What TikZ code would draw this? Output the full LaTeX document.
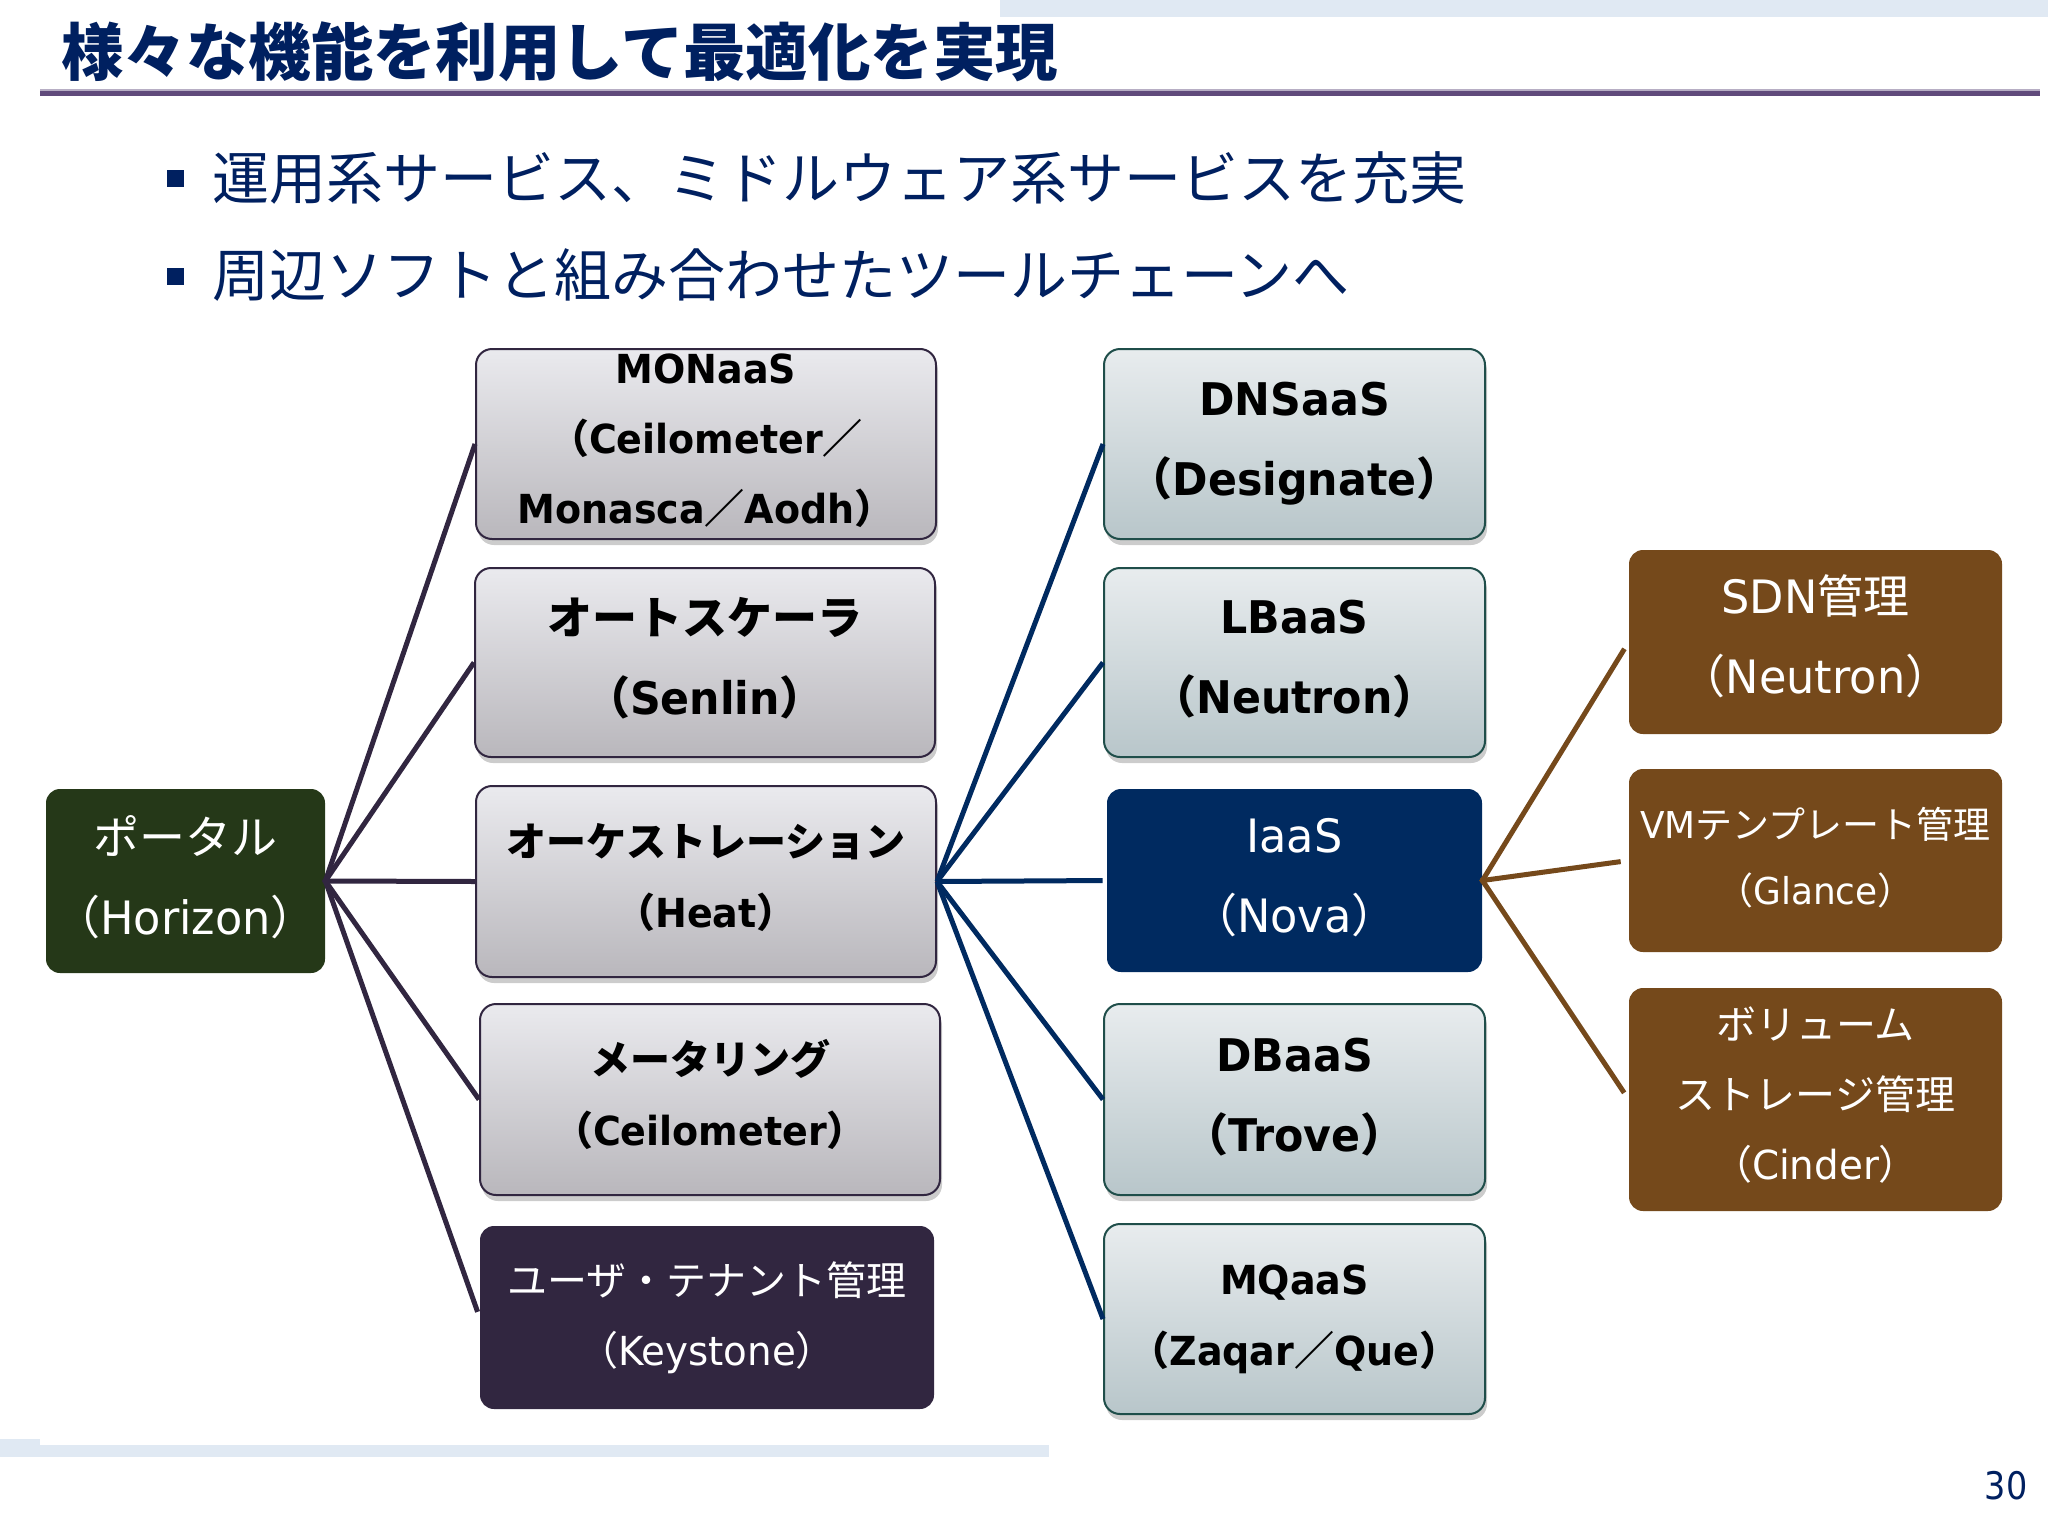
\documentclass[tikz,border=0pt]{standalone}
\usepackage{fontspec}
\setmainfont{Noto Sans CJK JP}
\newfontfamily\lat[FakeStretch=0.97,BoldFeatures={FakeStretch=0.95}]{DejaVu Sans}
\newfontfamily\num[FakeStretch=0.88]{DejaVu Sans}
\usetikzlibrary{shadows}
\definecolor{navy}{HTML}{002060}
\definecolor{nodeblue}{HTML}{002A60}
\definecolor{dkgreen}{HTML}{253818}
\definecolor{dkpurple}{HTML}{312640}
\definecolor{brown}{HTML}{75491B}
\definecolor{rule}{HTML}{604A7B}
\definecolor{band}{HTML}{E0E9F3}
\definecolor{graytop}{HTML}{EAEAEE}
\definecolor{graybot}{HTML}{B9B7BC}
\definecolor{tealtop}{HTML}{E8ECEE}
\definecolor{tealbot}{HTML}{B8C6CA}
\definecolor{tealedge}{HTML}{1F4E4A}
\newcommand{\La}[1]{{\lat #1}}
\newcommand{\Up}[1]{\rule[-#1pt]{0pt}{#1pt}}
\tikzset{
  x=0.5pt,y=-0.5pt,
  base/.style={rectangle,rounded corners=8pt,inner sep=0pt,align=center,anchor=center},
  sized/.style 2 args={minimum width=#1*0.5pt,minimum height=#2*0.5pt},
  grad/.style={base,drop shadow={shadow xshift=1pt,shadow yshift=-3pt,fill=black,opacity=.2},line width=1pt,text=black},
  gray/.style={grad,draw=dkpurple,top color=graytop,bottom color=graybot},
  teal/.style={grad,draw=tealedge,top color=tealtop,bottom color=tealbot},
  solid/.style={base,rounded corners=7pt,text=white},
  big/.style={font=\fontsize{23}{40}\selectfont},
  mid/.style={font=\fontsize{20}{35}\selectfont},
  mono/.style={font=\fontsize{20}{35}\selectfont\bfseries},
  bigb/.style={font=\fontsize{22.5}{40}\selectfont\bfseries},
  midb/.style={font=\fontsize{20}{35.5}\selectfont\bfseries},
  ln/.style={line width=2.5pt},
  lnp/.style={ln,draw=dkpurple},
  lnb/.style={ln,draw=nodeblue},
  lnr/.style={ln,draw=brown},
  bullet/.style={fill=navy,draw=none,minimum size=8.5pt,inner sep=0pt,rectangle},
  ttl/.style={text=navy,anchor=west,inner sep=0pt,font=\fontsize{31.2}{34}\selectfont\bfseries},
  item/.style={text=navy,anchor=west,inner sep=0pt,font=\fontsize{28.5}{32}\selectfont},
  bar/.style={fill=band,draw=none},
}
\begin{document}
\begin{tikzpicture}
\useasboundingbox (0,0) rectangle (2048,1536);
\fill[white] (0,0) rectangle (2048,1536);
% bands
\path[bar] (1000,0) rectangle (2048,17);
\path[bar] (0,1445) rectangle (1049,1457);
\path[bar] (0,1439) rectangle (40,1445);
% title
\node[ttl] (title) at (61,52) {様々な機能を利用して最適化を実現};
\fill[rule!45] (40,89) rectangle (2040,91);
\fill[rule] (40,91) rectangle (2040,96);
% bullets
\node[bullet] (b1) at (175.5,178.5) {};
\node[bullet] (b2) at (175.5,276) {};
\node[item] (t1) at (212,178) {運用系サービス、ミドルウェア系サービスを充実};
\node[item] (t2) at (212,275) {周辺ソフトと組み合わせたツールチェーンへ};
% column 1
\node[solid,sized={279}{184},fill=dkgreen,big] (portal) at (185.5,881) {ポータル\\（\La{Horizon}）\Up{6.5}};
\node[gray,sized={460}{190},mono] (mon) at (706,444) {\La{MONaaS}\\（\La{Ceilometer}／\\\La{Monasca}／\La{Aodh}）\Up{5}};
\node[gray,sized={460}{189},bigb] (auto) at (705,662.5) {オートスケーラ\\（\La{Senlin}）\Up{6.5}};
\node[gray,sized={460}{191},midb] (orch) at (706,881.5) {オーケストレーション\\（\La{Heat}）\Up{6.5}};
\node[gray,sized={460}{191},midb] (meter) at (710,1099.5) {メータリング\\（\La{Ceilometer}）\Up{7}};
\node[solid,sized={454}{183},fill=dkpurple,mid] (user) at (707,1317.5) {ユーザ・テナント管理\\（\La{Keystone}）\Up{4}};
% column 2
\node[teal,sized={381}{190},bigb] (dns) at (1294.5,444) {\La{DNSaaS}\\（\La{Designate}）};
\node[teal,sized={381}{189},bigb] (lb) at (1294.5,662.5) {\La{LBaaS}\\（\La{Neutron}）\Up{6}};
\node[solid,sized={375}{183},fill=nodeblue,big] (iaas) at (1294.5,880.5) {\La{IaaS}\\（\La{Nova}）\Up{5}};
\node[teal,sized={381}{191},bigb] (db) at (1294.5,1099.5) {\La{DBaaS}\\（\La{Trove}）\Up{5}};
\node[teal,sized={381}{190},midb] (mq) at (1294.5,1319) {\La{MQaaS}\\（\La{Zaqar}／\La{Que}）};
% column 3
\node[solid,sized={373}{184},fill=brown,big] (sdn) at (1815.5,642) {\La{SDN}管理\\（\La{Neutron}）\Up{7.5}};
\node[solid,sized={373}{183},fill=brown,font=\fontsize{18.5}{33}\selectfont] (vm) at (1815.5,860.5) {\La{VM}テンプレート管理\\（\La{Glance}）\Up{4.5}};
\node[solid,sized={373}{223},fill=brown,mid] (vol) at (1815.5,1099.5) {ボリューム\\ストレージ管理\\（\La{Cinder}）\Up{6}};
% connectors
\foreach \t in {mon,auto,orch,meter}{\draw[lnp,shorten <=-1pt] (portal.east) -- (\t.west);}
\draw[lnp,shorten <=-1pt,shorten >=3pt] (portal.east) -- (user.west);
\foreach \t in {dns,lb,db,mq}{\draw[lnb] (orch.east) -- (\t.west);}
\draw[lnb,shorten >=2pt] (orch.east) -- (iaas.west);
\foreach \t in {sdn,vm,vol}{\draw[lnr,shorten <=-1pt,shorten >=4pt] (iaas.east) -- (\t.west);}
% page number
\node[text=navy,inner sep=0pt,font=\fontsize{19}{22}\selectfont\num] (page) at (2006,1486) {30};
\end{tikzpicture}
\end{document}
